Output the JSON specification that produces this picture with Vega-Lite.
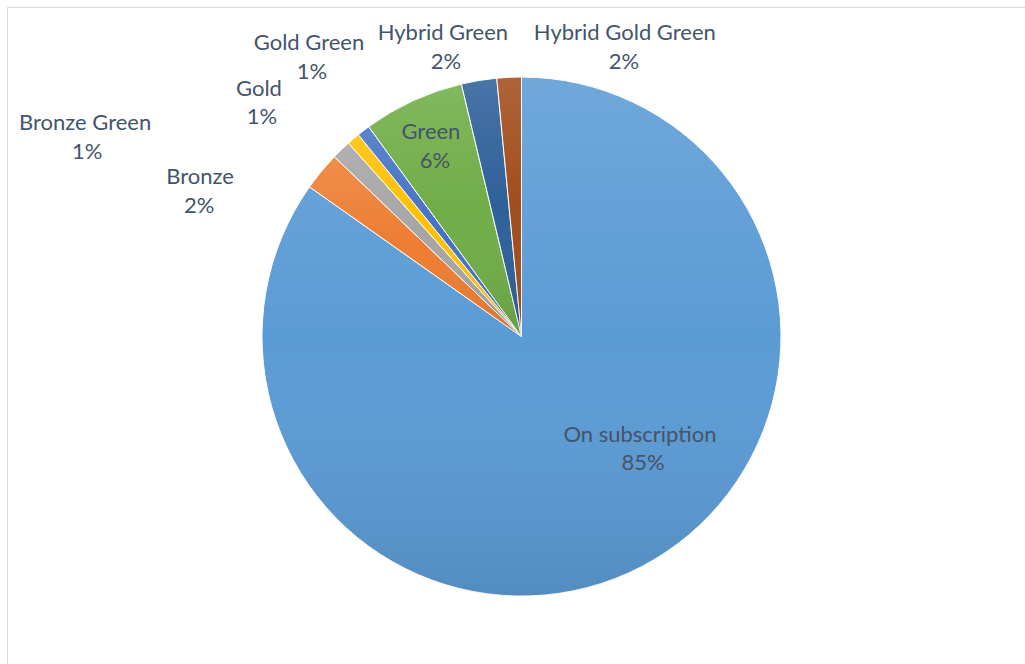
{
  "$schema": "https://vega.github.io/schema/vega-lite/v6.json",
  "width": 1018,
  "height": 657,
  "padding": {"left": 7, "top": 7, "right": 0, "bottom": 0},
  "autosize": {"type": "none"},
  "background": "#ffffff",
  "view": {"stroke": "#D9D9D9", "strokeWidth": 1},
  "config": {
    "view": {"stroke": "#D9D9D9", "strokeWidth": 1},
    "text": {"font": "Lato", "fontSize": 22, "fill": "#44546A", "align": "center", "baseline": "middle"}
  },
  "data": {
    "values": [
      {"category": "On subscription", "value": 0.8478, "idx": 1},
      {"category": "Bronze", "value": 0.024, "idx": 2},
      {"category": "Bronze Green", "value": 0.012, "idx": 3},
      {"category": "Gold", "value": 0.008, "idx": 4},
      {"category": "Gold Green", "value": 0.008, "idx": 5},
      {"category": "Green", "value": 0.063, "idx": 6},
      {"category": "Hybrid Green", "value": 0.022, "idx": 7},
      {"category": "Hybrid Gold Green", "value": 0.0152, "idx": 8}
    ]
  },
  "encoding": {
    "theta": {"field": "value", "type": "quantitative", "stack": true},
    "order": {"field": "idx", "type": "quantitative"},
    "detail": {"field": "category", "type": "nominal"}
  },
  "layer": [
    {
      "mark": {"type": "arc", "radius": 259.5, "stroke": "#ffffff", "strokeWidth": 1, "xOffset": 5.5, "yOffset": 1},
      "encoding": {
        "color": {
          "field": "category", "type": "nominal", "legend": null,
          "scale": {
            "domain": ["On subscription", "Bronze", "Bronze Green", "Gold", "Gold Green", "Green", "Hybrid Green", "Hybrid Gold Green"],
            "range": ["#5B9BD5", "#ED7D31", "#A5A5A5", "#FFC000", "#4472C4", "#70AD47", "#2E6099", "#A24D1C"]
          }
        }
      }
    },
    {
      "mark": {
        "type": "arc", "radius": 259.5, "xOffset": 5.5, "yOffset": 1,
        "fill": {
          "gradient": "linear", "x1": 0, "y1": 0, "x2": 0, "y2": 1,
          "stops": [
            {"offset": 0, "color": "rgba(255,255,255,0.13)"},
            {"offset": 0.5, "color": "rgba(255,255,255,0)"},
            {"offset": 1, "color": "rgba(0,0,0,0.1)"}
          ]
        }
      }
    },
    {"mark": {"type": "text", "radius": 164.5, "dx": 42.8, "dy": -47.5, "xOffset": 5.5, "yOffset": 1},
     "encoding": {"text": {"condition": {"test": "datum.category === 'On subscription'", "field": "category"}, "value": ""}}},
    {"mark": {"type": "text", "radius": 164.5, "dx": 45.8, "dy": -19.5, "xOffset": 5.5, "yOffset": 1},
     "encoding": {"text": {"condition": {"test": "datum.category === 'On subscription'", "field": "value", "type": "quantitative", "format": ".0%"}, "value": ""}}},
    {"mark": {"type": "text", "radius": 209.6, "dx": -2.9, "dy": -14.1, "xOffset": 5.5, "yOffset": 1},
     "encoding": {"text": {"condition": {"test": "datum.category === 'Green'", "field": "category"}, "value": ""}}},
    {"mark": {"type": "text", "radius": 209.6, "dx": 1.1, "dy": 14.9, "xOffset": 5.5, "yOffset": 1},
     "encoding": {"text": {"condition": {"test": "datum.category === 'Green'", "field": "value", "type": "quantitative", "format": ".0%"}, "value": ""}}},
    {"mark": {"type": "text", "radius": 290, "dx": -97.7, "dy": 25, "xOffset": 5.5, "yOffset": 1},
     "encoding": {"text": {"condition": {"test": "datum.category === 'Bronze'", "field": "category"}, "value": ""}}},
    {"mark": {"type": "text", "radius": 290, "dx": -98.7, "dy": 54, "xOffset": 5.5, "yOffset": 1},
     "encoding": {"text": {"condition": {"test": "datum.category === 'Bronze'", "field": "value", "type": "quantitative", "format": ".0%"}, "value": ""}}},
    {"mark": {"type": "text", "radius": 290, "dx": -235, "dy": -4.9, "xOffset": 5.5, "yOffset": 1},
     "encoding": {"text": {"condition": {"test": "datum.category === 'Bronze Green'", "field": "category"}, "value": ""}}},
    {"mark": {"type": "text", "radius": 290, "dx": -233, "dy": 24.1, "xOffset": 5.5, "yOffset": 1},
     "encoding": {"text": {"condition": {"test": "datum.category === 'Bronze Green'", "field": "value", "type": "quantitative", "format": ".0%"}, "value": ""}}},
    {"mark": {"type": "text", "radius": 290, "dx": -74.6, "dy": -26.7, "xOffset": 5.5, "yOffset": 1},
     "encoding": {"text": {"condition": {"test": "datum.category === 'Gold'", "field": "category"}, "value": ""}}},
    {"mark": {"type": "text", "radius": 290, "dx": -71.6, "dy": 1.3, "xOffset": 5.5, "yOffset": 1},
     "encoding": {"text": {"condition": {"test": "datum.category === 'Gold'", "field": "value", "type": "quantitative", "format": ".0%"}, "value": ""}}},
    {"mark": {"type": "text", "radius": 290, "dx": -35.9, "dy": -63.4, "xOffset": 5.5, "yOffset": 1},
     "encoding": {"text": {"condition": {"test": "datum.category === 'Gold Green'", "field": "category"}, "value": ""}}},
    {"mark": {"type": "text", "radius": 290, "dx": -32.9, "dy": -34.4, "xOffset": 5.5, "yOffset": 1},
     "encoding": {"text": {"condition": {"test": "datum.category === 'Gold Green'", "field": "value", "type": "quantitative", "format": ".0%"}, "value": ""}}},
    {"mark": {"type": "text", "radius": 290, "dx": -31.1, "dy": -17.4, "xOffset": 5.5, "yOffset": 1},
     "encoding": {"text": {"condition": {"test": "datum.category === 'Hybrid Green'", "field": "category"}, "value": ""}}},
    {"mark": {"type": "text", "radius": 290, "dx": -28.1, "dy": 11.6, "xOffset": 5.5, "yOffset": 1},
     "encoding": {"text": {"condition": {"test": "datum.category === 'Hybrid Green'", "field": "value", "type": "quantitative", "format": ".0%"}, "value": ""}}},
    {"mark": {"type": "text", "radius": 290, "dx": 117.2, "dy": -13.8, "xOffset": 5.5, "yOffset": 1},
     "encoding": {"text": {"condition": {"test": "datum.category === 'Hybrid Gold Green'", "field": "category"}, "value": ""}}},
    {"mark": {"type": "text", "radius": 290, "dx": 116.2, "dy": 15.2, "xOffset": 5.5, "yOffset": 1},
     "encoding": {"text": {"condition": {"test": "datum.category === 'Hybrid Gold Green'", "field": "value", "type": "quantitative", "format": ".0%"}, "value": ""}}}
  ]
}
